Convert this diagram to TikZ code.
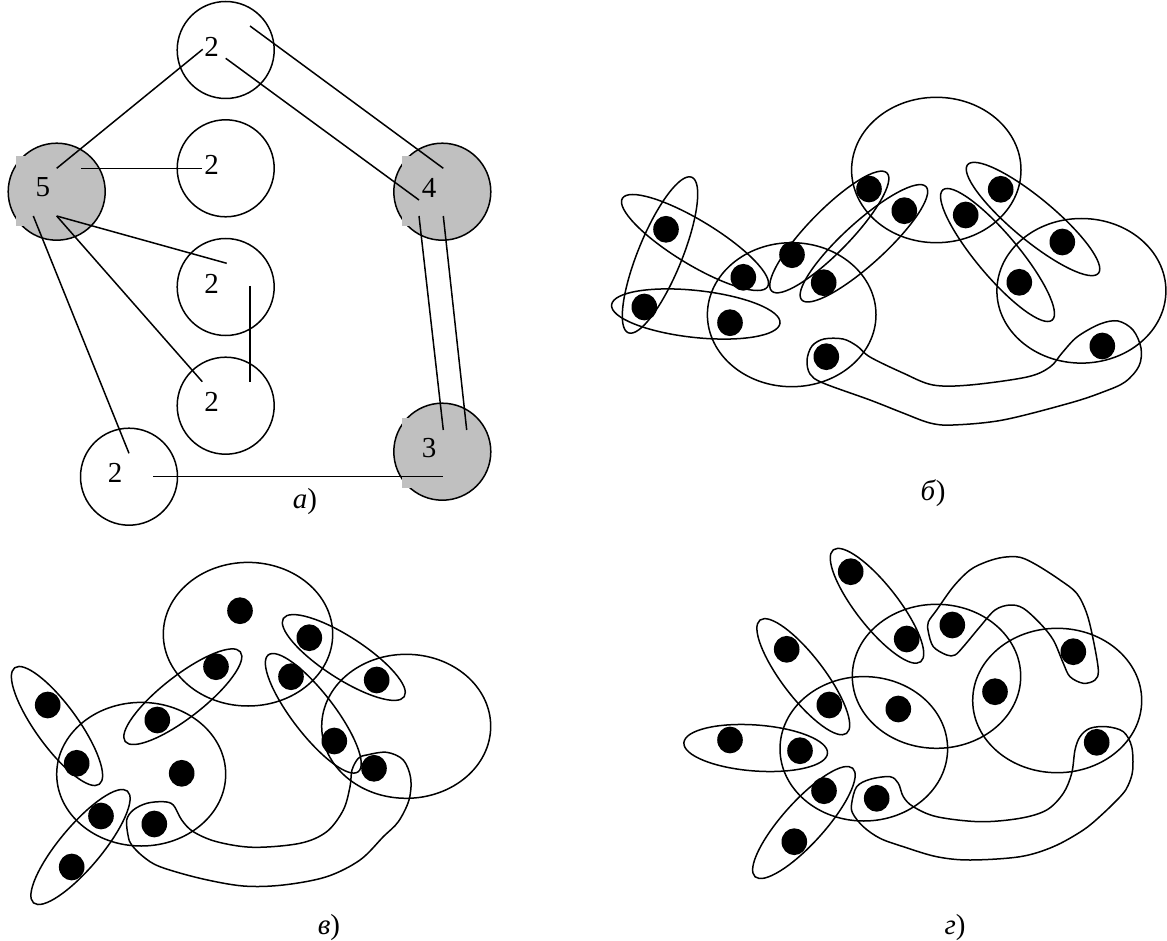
\documentclass[tikz,border=0pt]{standalone}
\usepackage{fontspec}
\setmainfont{Liberation Serif}
\usetikzlibrary{shapes.geometric}
\definecolor{cellgray}{RGB}{192,192,192}
\newcommand\HEll[5]{\draw[hyper, rotate around={#4:(#1,#2)}] (#1,#2) ellipse [x radius=#3, y radius=#5];}
\newcommand\BigEll[4]{\draw[hyper] (#1,#2) ellipse [x radius=#3, y radius=#4];}
\begin{document}
\begin{tikzpicture}[x=0.5pt,y=-0.5pt,
  vtx/.style={circle,draw,line width=0.75pt,minimum size=48.5pt,inner sep=0pt},
  gvtx/.style={vtx,fill=cellgray},
  gsq/.style={rectangle,fill=cellgray,minimum size=35pt,inner sep=0pt},
  num/.style={inner sep=0pt,font=\fontsize{14.5}{17}\selectfont},
  plabel/.style={inner sep=0pt,font=\fontsize{14.5}{17}\selectfont},
  edgeline/.style={line width=0.75pt},
  dot/.style={ellipse,fill=black,minimum width=12.8pt,minimum height=13.4pt,inner sep=0pt},
  hyper/.style={line width=0.75pt},
  blob/.style={line width=0.75pt}]
\useasboundingbox (0,0) rectangle (1167,941);
\fill[white] (0,0) rectangle (1167,941);

% ---------------- panel a ----------------
\node[vtx] (A1) at (225.7,50) {};
\node[vtx] (A2) at (225.7,168.3) {};
\node[vtx] (A3) at (225.7,287) {};
\node[vtx] (A4) at (225.7,405.7) {};
\node[vtx] (A5) at (129,476.7) {};
\node[gvtx] (V5) at (56.7,191.7) {};
\node[gvtx] (V4) at (442.3,191.7) {};
\node[gvtx] (V3) at (442.3,451.7) {};
\node[gsq] (S5) at (51,191.5) {};
\node[gsq] (S4) at (437,191.5) {};
\node[gsq] (S3) at (437,452.5) {};
\node[num] (t1) at (211.7,46.7) {2};
\node[num] (t2) at (211.7,165) {2};
\node[num] (t3) at (211.7,283.5) {2};
\node[num] (t4) at (211.7,402) {2};
\node[num] (t5) at (115,473) {2};
\node[num] (t6) at (43,187) {5};
\node[num] (t7) at (429,188) {4};
\node[num] (t8) at (429,448) {3};

\coordinate (p1a) at (202.7,49.3);  \coordinate (p1b) at (56.7,168.3);
\coordinate (p2a) at (250,26);      \coordinate (p2b) at (443.3,168.3);
\coordinate (p3a) at (225.7,58.3);  \coordinate (p3b) at (419,200);
\coordinate (p4a) at (81,168.3);    \coordinate (p4b) at (201.7,168.3);
\coordinate (p5a) at (56.7,216);    \coordinate (p5b) at (226.7,263.3);
\coordinate (p6b) at (202.3,381.7);
\coordinate (p7a) at (33.3,216);    \coordinate (p7b) at (129,453.3);
\coordinate (p8a) at (250,286);     \coordinate (p8b) at (250,381.7);
\coordinate (p9a) at (419,216);     \coordinate (p9b) at (443.3,430);
\coordinate (p10a) at (443.3,216);  \coordinate (p10b) at (466.7,430);
\coordinate (p11a) at (153.3,476.7); \coordinate (p11b) at (443.3,476.7);
\draw[edgeline] (p1a) -- (p1b);
\draw[edgeline] (p2a) -- (p2b);
\draw[edgeline] (p3a) -- (p3b);
\draw[edgeline] (p4a) -- (p4b);
\draw[edgeline] (p5a) -- (p5b);
\draw[edgeline] (p5a) -- (p6b);
\draw[edgeline] (p7a) -- (p7b);
\draw[edgeline] (p8a) -- (p8b);
\draw[edgeline] (p9a) -- (p9b);
\draw[edgeline] (p10a) -- (p10b);
\draw[edgeline] (p11a) -- (p11b);
\node[plabel] (la) at (305,502) {\textit{а})};

% ---------------- panel b ----------------
\foreach \n/\x/\y in {1/666/229.3, 2/644.3/307, 3/743.3/277.3, 4/730/322.7,
  5/792/254.7, 6/823.7/282.7, 7/826.3/356.7, 8/869/189, 9/904.3/210.7,
  10/965.7/215, 11/1000.7/189.3, 12/1062.3/242, 13/1019.3/282.3, 14/1102.3/346}
  \node[dot] (b\n) at (\x,\y) {};
\BigEll{791.7}{314.7}{84.3}{72}
\BigEll{936.3}{170}{84.7}{72.7}
\BigEll{1081.4}{290.8}{84.5}{72.3}
\HEll{660}{255}{84}{67.8}{22}
\HEll{695}{242.5}{85}{-31.3}{22}
\HEll{695.8}{314}{84.7}{-6.2}{23.5}
\HEll{829.3}{232}{82.5}{45.7}{21}
\HEll{863.9}{243.3}{84.1}{42.3}{21}
\HEll{997.5}{255}{85}{-50}{21}
\HEll{1033}{219}{85}{-39.7}{21}
\draw[blob] plot[smooth cycle, tension=0.55] coordinates {
 (807,360) (812,346) (824,339) (843,339) (857,346) (870,357) (903,373)
 (933,385) (970,385) (1027,377) (1050,367) (1062,353) (1077,337) (1100,324)
 (1118,321) (1133,330) (1141,348) (1139,366) (1125,382) (1103,392) (1070,403)
 (1003,420) (953,425) (930,423) (903,413) (870,400) (823,383) (810,374)};
\node[plabel] (lb) at (933,493) {\textit{б})};

% ---------------- panel v ----------------
\foreach \n/\x/\y in {1/47.7/705, 2/76.7/763.3, 3/101/816, 4/71.7/867,
  5/154.3/824, 6/181.7/773.3, 7/157.3/720, 8/216/666.7, 9/240/610.7,
  10/309.3/637.7, 11/291/676.7, 12/376.7/680, 13/334.3/741, 14/374/768.3}
  \node[dot] (v\n) at (\x,\y) {};
\BigEll{141.2}{774.2}{84.5}{71.8}
\BigEll{248}{634.2}{84.7}{71.8}
\BigEll{406.2}{726.3}{84.5}{72}
\HEll{57}{726}{72}{-54}{21}
\HEll{80.5}{847}{73}{50}{21}
\HEll{182.8}{696.7}{73}{37.9}{21}
\HEll{343.8}{657.5}{72}{-32.9}{21}
\HEll{313.3}{713.3}{73.7}{-52.4}{21}
\draw[blob] plot[smooth cycle, tension=0.55] coordinates {
 (128.3,836.7) (126.7,820) (133.3,810) (146.7,803.3) (163.3,801.7) (173.3,805)
 (181.7,820) (193.3,831.7) (216.7,841.7) (253.3,847.3) (300,843.3) (326.7,831.7)
 (343.3,810) (350,786.7) (352,770) (358.3,758.3) (366.7,755) (386.7,752.3)
 (403.3,760) (410.7,778.3) (409,800) (398.3,821.7) (383.3,836.7) (360,860)
 (326.7,876.7) (283.3,885) (243.3,886) (200,878.3) (160,866.7) (143.3,856.7)
 (131.7,845)};
\node[plabel] (lv) at (329,928) {\textit{в})};

% ---------------- panel g ----------------
\foreach \n/\x/\y in {1/850.7/571.7, 2/906.7/639, 3/952.3/625, 4/1073.3/651.7,
  5/786.7/649.3, 6/829.3/705, 7/898.3/709, 8/995/691.7, 9/730/740,
  10/800/750.7, 11/1096.7/742.3, 12/824/790.7, 13/876.7/798.3, 14/794.3/841.7}
  \node[dot] (g\n) at (\x,\y) {};
\BigEll{863.8}{748.8}{83.8}{72.2}
\BigEll{936.5}{676.3}{84.2}{72}
\BigEll{1057.2}{700.5}{84.5}{72.2}
\HEll{877}{605.8}{71}{-52}{21}
\HEll{803.3}{676.7}{71.3}{-52.6}{21}
\HEll{755.7}{748}{72}{-4.2}{23}
\HEll{803.9}{822.5}{73}{48}{21}
\draw[blob] plot[smooth cycle, tension=0.55] coordinates {
 (928.3,631.7) (933.3,646.7) (946.7,655) (955,655) (963.3,646.7) (980,626.7)
 (995,610) (1010,605) (1023.3,608.3) (1040,623.3) (1053.3,640) (1063.3,663.3)
 (1070,676.7) (1083.3,683.3) (1095,680) (1098.3,670) (1093.3,640) (1086.7,613.3)
 (1076.7,593.3) (1060,580) (1036.7,565) (1020,557.3) (1003.3,557.3) (986.7,561.7)
 (970,570) (953.3,586.7) (936.7,610) (928.3,622)};
\draw[blob] plot[smooth cycle, tension=0.55] coordinates {
 (851.7,803.3) (856.7,786.7) (870,779.3) (890,776.7) (898.3,783.3) (903.3,796.7)
 (913.3,806.7) (936.7,816.7) (980,821.7) (1020,818.3) (1046.7,810) (1063.3,793.3)
 (1071.7,773.3) (1075,750) (1080,736.7) (1090,728.3) (1106.7,726.7) (1123.3,731.7)
 (1131.7,746.7) (1132.7,770) (1128.3,785) (1121.7,795) (1103.3,813.3) (1083.3,830)
 (1053.3,846.7) (1020,856.7) (970,860) (936.7,856.7) (903.3,846.7) (880,838.3)
 (863.3,826.7) (852.7,813.3)};
\node[plabel] (lg) at (955,928) {\textit{г})};
\end{tikzpicture}
\end{document}
